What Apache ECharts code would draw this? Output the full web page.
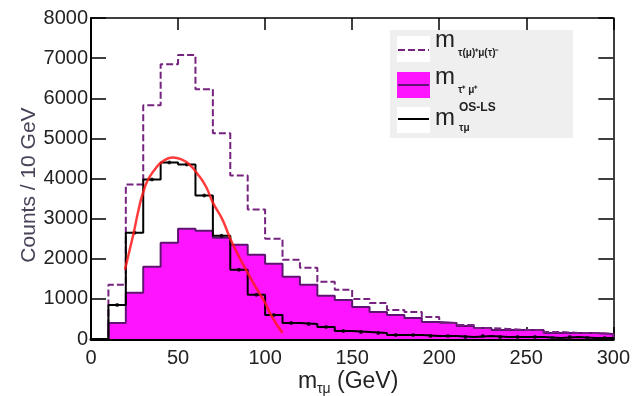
<!DOCTYPE html>
<html><head><meta charset="utf-8">
<script src="https://cdn.jsdelivr.net/npm/echarts@6/dist/echarts.min.js"></script>
<style>html,body{margin:0;padding:0;background:#fff}#c{width:633px;height:396px}</style>
</head><body><div id="c"></div>
<script>
// bin lower edges (GeV), bin width 10 GeV
const binStarts = [0,10,20,30,40,50,60,70,80,90,100,110,120,130,140,150,160,170,180,190,200,210,220,230,240,250,260,270,280,290];
const binWidth = 10;
// m_{tau(mu)+ mu(tau)-}  (purple dashed)
const mTauMuPair = [0,1350,3850,5825,6850,7075,6225,5125,4075,3225,2500,1975,1775,1425,1225,1000,900,725,675,550,400,350,275,250,225,225,175,150,150,125];
// m_{tau+ mu+}  (magenta filled, same sign)
const mSameSign = [0,400,1150,1800,2400,2750,2700,2525,2350,2100,1875,1550,1350,1075,975,800,675,600,525,425,400,325,275,225,225,225,150,150,150,125];
// m^{OS-LS}_{tau mu}  (black data)
const mOSLS = [0,850,2650,3975,4400,4350,3575,2575,1725,1100,600,400,375,300,200,175,150,100,100,75,75,50,75,50,50,50,25,50,25,25];
// red fit curve
const fitX = [19.5,24,31,37.5,42,47,52,56.5,61,66,70,75.5,80,85,90,94.5,100,104,110];
const fitY = [1725,2550,3800,4275,4450,4525,4475,4350,4125,3800,3400,2975,2500,2050,1650,1300,900,550,150];
// axes
const xMin = 0, xMax = 300, xStep = 50;
const yMin = 0, yMax = 8000, yStep = 1000;

function stepPoints(vals){
  const pts = [[binStarts[0],0]];
  vals.forEach((v,i)=>{ pts.push([binStarts[i],v]); pts.push([binStarts[i]+binWidth,v]); });
  pts.push([binStarts[binStarts.length-1]+binWidth,0]);
  return pts;
}
const centers = (vals)=>vals.map((v,i)=>[binStarts[i]+binWidth/2,v]).filter(p=>p[1]>0);

const FONT = 'Liberation Sans';
const purple = '#76237f';
const chart = echarts.init(document.getElementById('c'));
const plain = v => String(v);
chart.setOption({
  animation:false,
  backgroundColor:'#fff',
  grid:{left:91,right:16,top:18,bottom:57},
  xAxis:[
    {type:'value',min:xMin,max:xMax,interval:xStep,position:'bottom',
     axisLine:{show:true,onZero:false,lineStyle:{color:'#000',width:3}},
     axisTick:{show:true,inside:true,length:12,lineStyle:{color:'#000',width:1.5}},
     axisLabel:{fontFamily:FONT,fontSize:20,color:'#222',margin:9,formatter:plain},
     splitLine:{show:false}},
    {type:'value',min:xMin,max:xMax,interval:xStep,position:'top',
     axisLine:{show:true,onZero:false,lineStyle:{color:'#000',width:1.5}},
     axisTick:{show:true,inside:true,length:12,lineStyle:{color:'#000',width:1.5}},
     axisLabel:{show:false},splitLine:{show:false}}
  ],
  yAxis:[
    {type:'value',min:yMin,max:yMax,interval:yStep,position:'left',
     axisLine:{show:true,onZero:false,lineStyle:{color:'#000',width:2}},
     axisTick:{show:true,inside:true,length:15,lineStyle:{color:'#000',width:1.5}},
     axisLabel:{fontFamily:FONT,fontSize:20,color:'#222',margin:3,formatter:plain},
     splitLine:{show:false}},
    {type:'value',min:yMin,max:yMax,interval:yStep,position:'right',
     axisLine:{show:true,onZero:false,lineStyle:{color:'#000',width:1.5}},
     axisTick:{show:true,inside:true,length:15,lineStyle:{color:'#000',width:1.5}},
     axisLabel:{show:false},splitLine:{show:false}}
  ],
  series:[
    {type:'line',data:stepPoints(mSameSign),symbol:'none',
     lineStyle:{color:'#5e1470',width:2},
     areaStyle:{color:'#ff14ff',opacity:1},z:2},
    {type:'line',data:stepPoints(mTauMuPair),symbol:'none',
     lineStyle:{color:purple,width:2,type:[7,3]},z:3},
    {type:'line',data:stepPoints(mOSLS),symbol:'none',
     lineStyle:{color:'#000',width:2},z:4},
    {type:'scatter',data:centers(mOSLS),symbol:'circle',symbolSize:4,
     itemStyle:{color:'#000'},z:5},
    {type:'line',data:fitX.map((x,i)=>[x,fitY[i]]),symbol:'none',smooth:true,
     lineStyle:{color:'#ff1a1a',width:2.5,opacity:0.85},z:6}
  ],
  graphic:[
    // y axis title
    {type:'text',x:29,y:185,rotation:Math.PI/2,
     style:{text:'Counts / 10 GeV',font:'21px '+FONT,fill:'#4a4258',align:'center',verticalAlign:'middle'}},
    // x axis title
    {type:'text',x:298,y:382,style:{text:'m',font:'23px '+FONT,fill:'#222',verticalAlign:'middle'}},
    {type:'text',x:317,y:389,style:{text:'τμ',font:'14px '+FONT,fill:'#222',verticalAlign:'middle'}},
    {type:'text',x:337,y:382,style:{text:'(GeV)',font:'23px '+FONT,fill:'#222',verticalAlign:'middle'}},
    // legend box
    {type:'rect',shape:{x:390,y:30,width:183,height:108},style:{fill:'#efefef'}},
    {type:'rect',shape:{x:397,y:36,width:33,height:26},style:{fill:'#fff'}},
    {type:'line',shape:{x1:398,y1:50,x2:429,y2:50},style:{stroke:purple,lineWidth:2,lineDash:[7,3]}},
    {type:'rect',shape:{x:397,y:72,width:33,height:26},style:{fill:'#ff14ff'}},
    {type:'line',shape:{x1:398,y1:85,x2:429,y2:85},style:{stroke:'#5e1470',lineWidth:2}},
    {type:'rect',shape:{x:397,y:107,width:33,height:26},style:{fill:'#fff'}},
    {type:'line',shape:{x1:398,y1:119,x2:429,y2:119},style:{stroke:'#000',lineWidth:2}},
    {type:'text',x:435,y:40,style:{text:'m',font:'24px '+FONT,fill:'#222',verticalAlign:'middle'}},
    {type:'text',x:458,y:53,style:{text:'τ(μ)⁺μ(τ)⁻',font:'bold 10px '+FONT,fill:'#222',verticalAlign:'middle'}},
    {type:'text',x:435,y:77,style:{text:'m',font:'24px '+FONT,fill:'#222',verticalAlign:'middle'}},
    {type:'text',x:458,y:90,style:{text:'τ⁺ μ⁺',font:'bold 10px '+FONT,fill:'#222',verticalAlign:'middle'}},
    {type:'text',x:435,y:118,style:{text:'m',font:'24px '+FONT,fill:'#222',verticalAlign:'middle'}},
    {type:'text',x:459,y:108,style:{text:'OS-LS',font:'bold 12px '+FONT,fill:'#222',verticalAlign:'middle'}},
    {type:'text',x:459,y:128,style:{text:'τμ',font:'bold 10px '+FONT,fill:'#222',verticalAlign:'middle'}}
  ]
});
</script>
</body></html>
